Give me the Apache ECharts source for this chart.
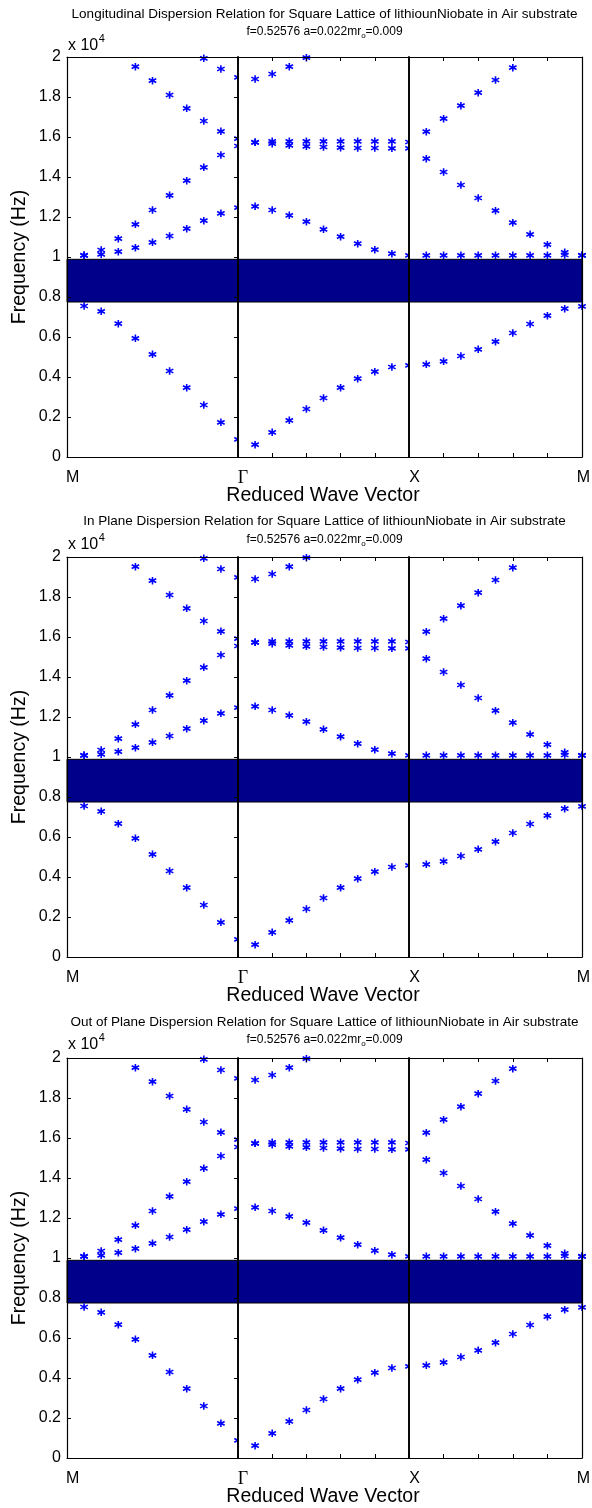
<!DOCTYPE html>
<html>
<head>
<meta charset="utf-8">
<script src="https://cdn.jsdelivr.net/npm/echarts@6/dist/echarts.min.js"></script>
<style>
html, body { margin: 0; padding: 0; background: #fff; }
#main { width: 592px; height: 1508px; }
</style>
</head>
<body>
<div id="main"></div>
<script>
// titles of the three panels
var plotTitles = [
	'Longitudinal Dispersion Relation for Square Lattice of lithiounNiobate in Air substrate',
	'In Plane Dispersion Relation for Square Lattice of lithiounNiobate in Air substrate',
	'Out of Plane Dispersion Relation for Square Lattice of lithiounNiobate in Air substrate'
];
var subTitleParts = ['f=0.52576 a=0.022mr', 'o', '=0.009'];
var xTickLabels = ['M', '\u0393', 'X', 'M'];
var xTickValues = [0, 10, 20, 30];

// x positions of the points along M-Γ, Γ-X, X-M
var mgX = [1, 2, 3, 4, 5, 6, 7, 8, 9, 10];
var gxX = [11, 12, 13, 14, 15, 16, 17, 18, 19, 20];
var xmX = [21, 22, 23, 24, 25, 26, 27, 28, 29, 30];

// frequencies (Hz), M -> Γ
var mg1 = [7550, 7283, 6667, 5933, 5133, 4300, 3467, 2600, 1733, 883];
var mg2 = [10083, 10133, 10267, 10467, 10733, 11050, 11417, 11817, 12183, 12467];
var mg3 = [10083, 10350, 10917, 11633, 12350, 13083, 13817, 14483, 15100, 15550];
var mg4 = [null, null, null, 19517, 18817, 18100, 17433, 16800, 16283, 15917];
var mg5 = [null, null, null, null, null, null, null, 19933, 19400, 18983];

// Γ -> X
var gx1 = [617, 1233, 1833, 2400, 2950, 3467, 3917, 4267, 4500, 4583];
var gx2 = [12533, 12350, 12083, 11767, 11383, 11017, 10667, 10367, 10167, 10083];
var gx3 = [15733, 15783, 15783, 15783, 15783, 15783, 15783, 15783, 15783, 15750];
var gx4 = [15733, 15667, 15583, 15533, 15500, 15467, 15450, 15450, 15433, 15433];
var gx5 = [18900, 19150, 19517, 19967, null, null, null, null, null, null];

// X -> M
var xm1 = [4633, 4783, 5050, 5383, 5767, 6200, 6650, 7067, 7417, 7533];
var xm2 = [10083, 10083, 10083, 10083, 10083, 10083, 10083, 10083, 10100, 10083];
var xm3 = [14917, 14250, 13600, 12950, 12317, 11717, 11133, 10617, 10233, 10083];
var xm4 = [16267, 16917, 17567, 18217, 18850, 19467, null, null, null, null];

// band gap (Hz)
var bandGap = [7750, 9885];

var segments = [
	{ x: mgX, branches: [mg1, mg2, mg3, mg4, mg5], range: [0, 10] },
	{ x: gxX, branches: [gx1, gx2, gx3, gx4, gx5], range: [10, 20] },
	{ x: xmX, branches: [xm1, xm2, xm3, xm4], range: [20, 30] }
];

var chart = echarts.init(document.getElementById('main'));

var FONT = '"Liberation Sans", Arial, Helvetica, sans-serif';
var plotTop = [57, 557, 1058];
var titleY = [14, 521, 1022];
var subY = [32, 540, 1040];
var expY = [46, 545, 1045];
var segLeft = [67, 238, 409];
var segWidth = [171, 171, 173];
var plotH = 400;
var asterisk = 'path://M0,-5L0,5M-4.33,-2.5L4.33,2.5M-4.33,2.5L4.33,-2.5';

// text width helper
var measureCtx = document.createElement('canvas').getContext('2d');
function textWidth(str, font) {
	measureCtx.font = font;
	return measureCtx.measureText(str).width;
}

var grids = [], xAxes = [], yAxes = [], series = [], graphics = [];

for (var p = 0; p < 3; p++) {
	for (var s = 0; s < 3; s++) {
		var g = p * 3 + s;
		var seg = segments[s];
		grids.push({
			left: segLeft[s], top: plotTop[p], width: segWidth[s], height: plotH,
			show: true, backgroundColor: '#fff', borderWidth: 0, z: s * 10 + 1
		});
		// bottom and top x axes
		for (var k = 0; k < 2; k++) {
			xAxes.push({
				gridIndex: g, type: 'value', position: k == 0 ? 'bottom' : 'top',
				min: seg.range[0], max: seg.range[1], interval: 2, z: 50,
				axisLine: { show: true, onZero: false, lineStyle: { color: '#000', width: 1.2 } },
				axisTick: { show: s > 0, inside: true, length: 4, lineStyle: { color: '#000' } },
				axisLabel: { show: false }, splitLine: { show: false }
			});
		}
		// left y axis
		yAxes.push({
			gridIndex: g, type: 'value', position: 'left', min: 0, max: 20000, interval: 2000, z: 50,
			name: s == 0 ? 'Frequency (Hz)' : '', nameLocation: 'middle', nameGap: 37, nameRotate: 90,
			nameTextStyle: { color: '#000', fontFamily: FONT, fontSize: 19.5 },
			axisLine: { show: true, onZero: false, lineStyle: { color: '#000', width: s == 0 ? 1.2 : 1.6 } },
			axisTick: { show: s == 0, inside: true, length: 4, lineStyle: { color: '#000' } },
			axisLabel: {
				show: s == 0, margin: 6, color: '#000', fontFamily: FONT, fontSize: 16,
				formatter: function(v) { return String(+(v / 10000).toFixed(1)); }
			},
			splitLine: { show: false }
		});
		// right y axis
		yAxes.push({
			gridIndex: g, type: 'value', position: 'right', min: 0, max: 20000, interval: 2000, z: 50,
			axisLine: { show: true, onZero: false, lineStyle: { color: '#000', width: s == 2 ? 1.2 : 1.6 } },
			axisTick: { show: s == 0, inside: true, length: 4, lineStyle: { color: '#000' } },
			axisLabel: { show: false }, splitLine: { show: false }
		});
		for (var b = 0; b < seg.branches.length; b++) {
			var pts = [];
			for (var i = 0; i < seg.x.length; i++) {
				if (seg.branches[b][i] != null) pts.push([seg.x[i], seg.branches[b][i]]);
			}
			var ser = {
				type: 'scatter', xAxisIndex: g * 2, yAxisIndex: g * 2, data: pts,
				symbol: asterisk, symbolSize: 7.5, silent: true, z: s * 10 + 5,
				itemStyle: { color: '#0000ff', borderColor: '#0000ff', borderWidth: 1.6, opacity: 1 }
			};
			if (b == 0) {
				// band gap, z above this grid's white background
				ser.markArea = {
					silent: true, z: s * 10 + 3,
					itemStyle: { color: '#00008b', borderColor: '#000', borderWidth: 1 },
					data: [[{ yAxis: bandGap[0] }, { yAxis: bandGap[1] }]]
				};
			}
			series.push(ser);
		}
	}

	// texts
	var bottom = plotTop[p] + plotH;
	graphics.push({
		type: 'text', x: 324.5, y: titleY[p],
		style: { text: plotTitles[p], font: '13.5px ' + FONT, fill: '#000', textAlign: 'center', textVerticalAlign: 'middle' }
	});
	// subtitle with subscript o
	var fMain = '12px ' + FONT, fSub = '8px ' + FONT;
	var w0 = textWidth(subTitleParts[0], fMain), w1 = textWidth(subTitleParts[1], fSub), w2 = textWidth(subTitleParts[2], fMain);
	var sx = 324.5 - (w0 + w1 + w2) / 2;
	graphics.push({ type: 'text', x: sx, y: subY[p],
		style: { text: subTitleParts[0], font: fMain, fill: '#000', textAlign: 'left', textVerticalAlign: 'middle' } });
	graphics.push({ type: 'text', x: sx + w0, y: subY[p] + 4,
		style: { text: subTitleParts[1], font: fSub, fill: '#000', textAlign: 'left', textVerticalAlign: 'middle' } });
	graphics.push({ type: 'text', x: sx + w0 + w1, y: subY[p],
		style: { text: subTitleParts[2], font: fMain, fill: '#000', textAlign: 'left', textVerticalAlign: 'middle' } });
	// x 10^4 multiplier
	var fExp = '16px ' + FONT;
	graphics.push({ type: 'text', x: 68, y: expY[p],
		style: { text: 'x 10', font: fExp, fill: '#000', textAlign: 'left', textVerticalAlign: 'middle' } });
	graphics.push({ type: 'text', x: 68 + textWidth('x 10', fExp) + 0.5, y: expY[p] - 7,
		style: { text: '4', font: '11px ' + FONT, fill: '#000', textAlign: 'left', textVerticalAlign: 'middle' } });
	// x tick labels
	for (var t = 0; t < xTickLabels.length; t++) {
		var tx = segLeft[0] + xTickValues[t] / 30 * 515;
		graphics.push({
			type: 'text', x: t == 3 ? tx + 8 : tx - 1, y: bottom + 21,
			style: {
				text: xTickLabels[t], fill: '#000',
				font: (t == 1 ? '18px "Liberation Serif", "Times New Roman", serif' : '16px ' + FONT),
				textAlign: t == 3 ? 'right' : 'left', textVerticalAlign: 'middle'
			}
		});
	}
	graphics.push({
		type: 'text', x: 323, y: bottom + 39,
		style: { text: 'Reduced Wave Vector', font: '19.5px ' + FONT, fill: '#000', textAlign: 'center', textVerticalAlign: 'middle' }
	});
}

chart.setOption({
	animation: false,
	backgroundColor: '#fff',
	grid: grids,
	xAxis: xAxes,
	yAxis: yAxes,
	series: series,
	graphic: graphics
});
</script>
</body>
</html>
